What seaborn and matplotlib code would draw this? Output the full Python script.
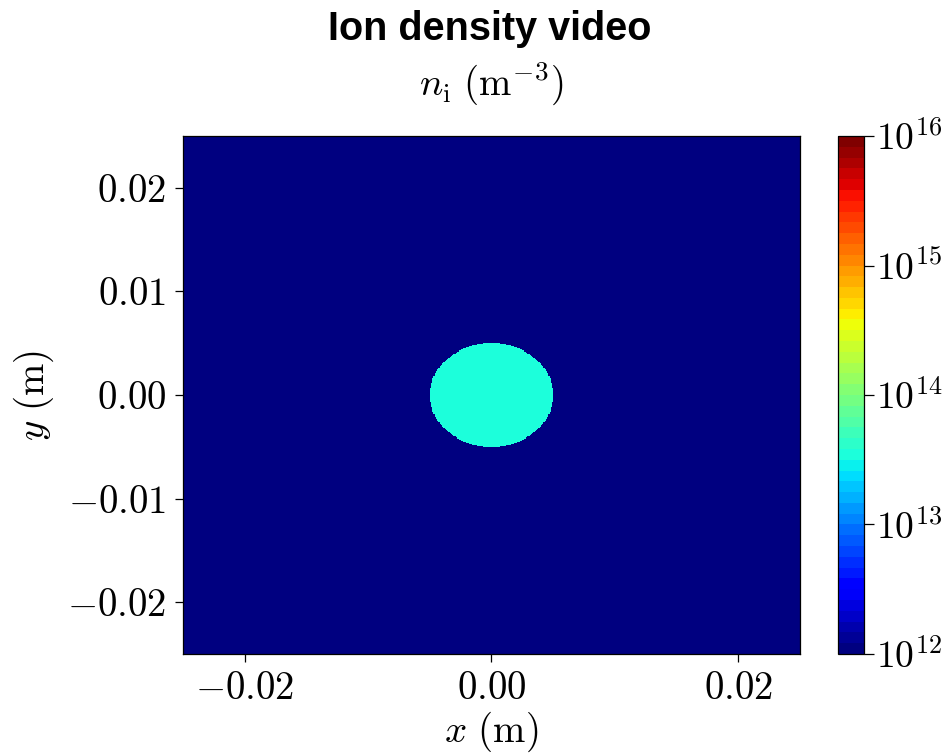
import numpy as np
import pandas as pd
import matplotlib
matplotlib.use("Agg")
import matplotlib.pyplot as plt
from matplotlib.colors import LogNorm, ListedColormap
import seaborn as sns

# ---- data ----
x_limits = [-0.025, 0.025]          # m
y_limits = [-0.025, 0.025]          # m
plasma_radius = 0.005               # m
n_background = 1.0e12               # m^-3
n_plasma = 3.2e13                   # m^-3
x_ticks = [-0.02, 0.00, 0.02]
x_tick_labels = ["$-0.02$", "$0.00$", "$0.02$"]
y_ticks = [-0.02, -0.01, 0.00, 0.01, 0.02]
y_tick_labels = ["$-0.02$", "$-0.01$", "$0.00$", "$0.01$", "$0.02$"]
cbar_ticks = [1e12, 1e13, 1e14, 1e15, 1e16]
cbar_tick_labels = ["$10^{12}$", "$10^{13}$", "$10^{14}$", "$10^{15}$", "$10^{16}$"]
n_levels = 48

# ---- grid ----
N = 500
dx = (x_limits[1] - x_limits[0]) / N
dy = (y_limits[1] - y_limits[0]) / N
xc = x_limits[0] + (np.arange(N) + 0.5) * dx
yc = y_limits[1] - (np.arange(N) + 0.5) * dy   # rows top -> bottom
X, Y = np.meshgrid(xc, yc)
field = np.where(X**2 + Y**2 <= plasma_radius**2, n_plasma, n_background)
df = pd.DataFrame(field, index=yc, columns=xc)

sns.set_style("white")
plt.rcParams["mathtext.fontset"] = "cm"
plt.rcParams["font.family"] = ["Liberation Sans", "DejaVu Sans"]
for k in ["text.color", "axes.labelcolor", "xtick.color", "ytick.color"]:
    plt.rcParams[k] = "black"

FS = 28

fig = plt.figure(figsize=(9.47, 7.56), dpi=100)
ax = fig.add_axes([0.193, 0.135, 0.652, 0.685])
cax = fig.add_axes([0.885, 0.135, 0.027, 0.685])

cmap = ListedColormap(plt.get_cmap("jet")(np.linspace(0, 1, n_levels)))
norm = LogNorm(vmin=cbar_ticks[0], vmax=cbar_ticks[-1])
sns.heatmap(df, ax=ax, cmap=cmap, norm=norm, cbar=True, cbar_ax=cax,
            xticklabels=False, yticklabels=False, rasterized=True)

for s in ax.spines.values():
    s.set_visible(True)
    s.set_color("black")
    s.set_linewidth(0.9)

ax.set_xticks([(v - x_limits[0]) / dx for v in x_ticks])
ax.set_xticklabels(x_tick_labels)
ax.set_yticks([(y_limits[1] - v) / dy for v in y_ticks])
ax.set_yticklabels(y_tick_labels, rotation=0)
ax.tick_params(axis="both", which="major", direction="out", length=6,
               width=0.9, pad=6, labelsize=FS, colors="black",
               bottom=True, left=True)
ax.set_xlabel(r"$x\ (\mathrm{m})$", fontsize=FS, labelpad=2)
ax.set_ylabel(r"$y\ (\mathrm{m})$", fontsize=FS, labelpad=8)
ax.set_title(r"$n_\mathrm{i}\ (\mathrm{m}^{-3})$", fontsize=FS, pad=30)

cbar = ax.collections[0].colorbar
cbar.set_ticks(cbar_ticks)
cbar.set_ticklabels(cbar_tick_labels)
cbar.ax.minorticks_off()
cbar.ax.tick_params(direction="out", length=7, width=0.9, labelsize=FS - 1,
                    pad=2, colors="black")
cbar.outline.set_visible(True)
cbar.outline.set_edgecolor("black")
cbar.outline.set_linewidth(0.9)

fig.text(0.517, 0.962, "Ion density video", ha="center", va="center",
         fontsize=28.5, fontweight="bold", color="black",
         family=["Liberation Sans", "DejaVu Sans"])

fig.savefig("out.png", dpi=100)
